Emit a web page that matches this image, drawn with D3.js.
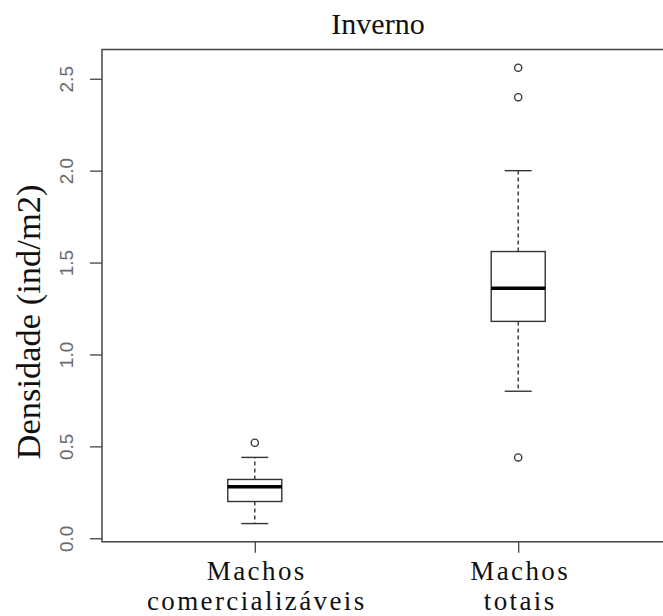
<!DOCTYPE html>
<html>
<head>
<meta charset="utf-8">
<script src="https://cdn.jsdelivr.net/npm/d3@7"></script>
<style>
  html, body { margin: 0; padding: 0; background: #fff; }
  svg { display: block; }
</style>
</head>
<body>
<svg id="chart" width="663" height="616"></svg>
<script>
// Box statistics per group (ind/m2)
const groups = [["Machos", "comercializáveis"], ["Machos", "totais"]];
const whiskerLow  = [0.08, 0.80];
const q1          = [0.20, 1.18];
const medians     = [0.28, 1.36];
const q3          = [0.32, 1.56];
const whiskerHigh = [0.44, 2.00];
const outliers    = [[0.52], [2.56, 2.40, 0.44]];
const yTicks = [0.0, 0.5, 1.0, 1.5, 2.0, 2.5];
const title = "Inverno";
const yTitle = "Densidade (ind/m2)";

const svg = d3.select("#chart");
const frame = { left: 102, right: 671, top: 49.5, bottom: 541.8 };

// y range padded 4% beyond the data, as in base graphics
const all = whiskerLow.concat(whiskerHigh, outliers.flat());
const [lo, hi] = d3.extent(all);
const pad = (hi - lo) * 0.04;
const y = d3.scaleLinear().domain([lo - pad, hi + pad]).range([frame.bottom, frame.top]);
const x = d3.scaleLinear().domain([0.42, groups.length + 0.58]).range([frame.left, frame.right]);

const boxW = x(0.205) - x(0);
const capW = boxW / 2;
const ink = "#333";

// plot frame
svg.append("rect")
  .attr("x", frame.left).attr("y", frame.top)
  .attr("width", frame.right - frame.left).attr("height", frame.bottom - frame.top)
  .attr("fill", "none").attr("stroke", "#444").attr("stroke-width", 1.5);

// y axis
const yAxis = svg.append("g").attr("transform", `translate(${frame.left},0)`)
  .call(d3.axisLeft(y).tickValues(yTicks).tickSize(12).tickFormat(d3.format(".1f")));
yAxis.select(".domain").remove();
yAxis.selectAll(".tick line").attr("stroke", "#444").attr("stroke-width", 1.3);
yAxis.selectAll(".tick text")
  .attr("x", null).attr("dy", null)
  .attr("transform", "translate(-29,0) rotate(-90)")
  .attr("text-anchor", "middle")
  .attr("font-family", "'Liberation Sans', Arial, sans-serif")
  .attr("font-size", 19)
  .attr("fill", "#6a6a6a");

// x axis
const xAxis = svg.append("g").attr("transform", `translate(0,${frame.bottom})`)
  .call(d3.axisBottom(x).tickValues(groups.map((g, i) => i + 1)).tickSize(11).tickFormat(""));
xAxis.select(".domain").remove();
xAxis.selectAll(".tick line").attr("stroke", "#444").attr("stroke-width", 1.3);

groups.forEach((lines, i) => {
  const t = svg.append("text")
    .attr("x", x(i + 1) + 2)
    .attr("y", 580)
    .attr("text-anchor", "middle")
    .attr("font-family", "'Liberation Serif', 'Times New Roman', serif")
    .attr("font-size", 27)
    .attr("letter-spacing", 2.4)
    .attr("fill", "#111");
  lines.forEach((s, k) => {
    t.append("tspan").attr("x", x(i + 1) + 2).attr("dy", k === 0 ? 0 : 30).text(s);
  });
});

// boxes
groups.forEach((g, i) => {
  const cx = x(i + 1);
  const grp = svg.append("g");
  // whiskers
  [[q3[i], whiskerHigh[i]], [q1[i], whiskerLow[i]]].forEach(([a, b]) => {
    grp.append("line")
      .attr("x1", cx).attr("x2", cx).attr("y1", y(a)).attr("y2", y(b))
      .attr("stroke", ink).attr("stroke-width", 1.4).attr("stroke-dasharray", "4,3");
    grp.append("line")
      .attr("x1", cx - capW / 2).attr("x2", cx + capW / 2).attr("y1", y(b)).attr("y2", y(b))
      .attr("stroke", ink).attr("stroke-width", 1.4);
  });
  grp.append("rect")
    .attr("x", cx - boxW / 2).attr("y", y(q3[i]))
    .attr("width", boxW).attr("height", y(q1[i]) - y(q3[i]))
    .attr("fill", "#fff").attr("stroke", ink).attr("stroke-width", 1.4);
  grp.append("line")
    .attr("x1", cx - boxW / 2).attr("x2", cx + boxW / 2)
    .attr("y1", y(medians[i])).attr("y2", y(medians[i]))
    .attr("stroke", "#000").attr("stroke-width", 3.5);
  grp.selectAll("circle").data(outliers[i]).join("circle")
    .attr("cx", cx).attr("cy", d => y(d)).attr("r", 3.6)
    .attr("fill", "none").attr("stroke", ink).attr("stroke-width", 1.3);
});

// titles
svg.append("text")
  .attr("x", 378).attr("y", 34)
  .attr("text-anchor", "middle")
  .attr("font-family", "'Liberation Serif', 'Times New Roman', serif")
  .attr("font-size", 30)
  .attr("fill", "#111")
  .text(title);

svg.append("text")
  .attr("transform", "translate(40,322) rotate(-90)")
  .attr("text-anchor", "middle")
  .attr("font-family", "'Liberation Serif', 'Times New Roman', serif")
  .attr("font-size", 34.5)
  .attr("fill", "#111")
  .text(yTitle);
</script>
</body>
</html>
